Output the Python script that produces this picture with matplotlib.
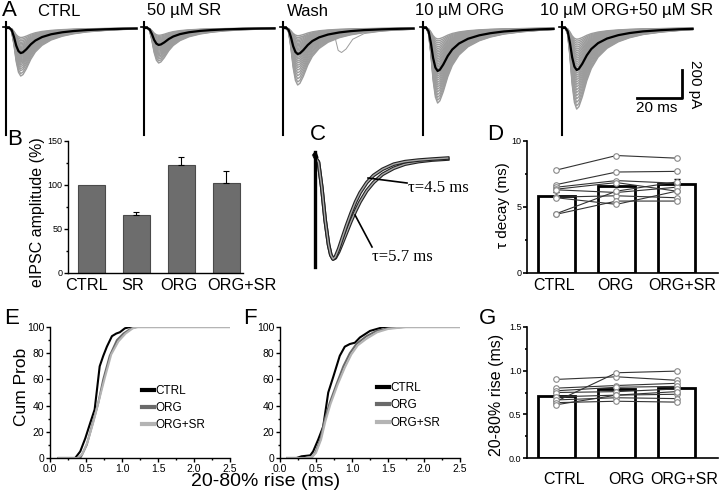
import numpy as np
import matplotlib
matplotlib.use("Agg")
import matplotlib.pyplot as plt
from matplotlib.ticker import MultipleLocator, FormatStrFormatter

plt.rcParams['font.family'] = ['Liberation Sans', 'DejaVu Sans']
plt.rcParams['axes.linewidth'] = 1.0

W, H = 720, 493

# ---- Panel A: evoked IPSC traces (pA vs ms) ----
a_titles = ['CTRL', '50 µM SR', 'Wash', '10 µM ORG', '10 µM ORG+50 µM SR']
# normalised waveform shape (time after stimulus, ms)
wave_t = [0, 1.5, 2.5, 3.5, 4.5, 5.5, 6.5, 7.5, 9, 11, 13, 16, 20, 25, 30, 36, 44, 52, 58]
wave_v = [0, 0, -0.08, -0.35, -0.7, -0.92, -1.0, -0.97, -0.85, -0.65, -0.5,
          -0.36, -0.25, -0.17, -0.12, -0.08, -0.05, -0.03, -0.02]
a_mean_peak = [179, 121, 186, 307, 300]
a_grey_peaks = [
    [343, 325, 305, 290, 275, 262, 252, 243, 235, 228, 220, 212, 205, 198, 191,
     185, 179, 172, 166, 160, 153, 146, 139, 131, 122, 113, 103, 92, 80, 68],
    [250, 235, 222, 210, 200, 190, 182, 174, 166, 158, 151, 144, 137, 130, 124,
     118, 112, 106, 100, 94, 88, 82, 75, 68, 60, 52],
    [407, 385, 362, 340, 320, 300, 282, 266, 250, 236, 222, 210, 198, 186, 175,
     165, 155, 146, 137, 128, 119, 110, 100, 90, 80, 68, 55],
    [536, 515, 495, 475, 455, 437, 420, 404, 388, 372, 357, 343, 330, 317, 304,
     292, 280, 268, 256, 244, 232, 220, 208, 196, 184, 172, 160, 147, 134, 120,
     106, 92, 78],
    [579, 555, 530, 505, 482, 460, 440, 420, 402, 385, 368, 352, 337, 322, 308,
     294, 280, 267, 254, 241, 228, 215, 202, 189, 176, 163, 150, 136, 122, 108,
     94, 80],
]
wash_extra_t = [0, 3, 6, 9, 14, 20, 23, 24.5, 26, 28, 31, 36, 45, 58]
wash_extra_v = [0, -20, -70, -60, -45, -35, -60, -160, -175, -150, -80, -40, -20, -10]
a_seg_start = [2.7, 64.0, 125.8, 188.0, 249.8]

# ---- Panel B ----
b_labels = ['CTRL', 'SR', 'ORG', 'ORG+SR']
b_vals = [100, 66, 123, 102]
b_err = [0, 3, 9, 14]

# ---- Panel C: normalised traces ----
c_t = [0, 1.5, 3, 4.5, 6, 7, 8, 9, 10.5, 12, 14, 16, 18, 20, 23, 26, 30, 35, 40, 46, 52, 59]
c_fast = [0, -0.05, -0.3, -0.62, -0.86, -0.96, -1.0, -0.98, -0.9, -0.8, -0.67, -0.55,
          -0.44, -0.35, -0.25, -0.18, -0.12, -0.07, -0.045, -0.03, -0.02, -0.01]
c_slow = [0, -0.05, -0.3, -0.62, -0.86, -0.96, -1.0, -0.99, -0.93, -0.85, -0.74, -0.63,
          -0.53, -0.44, -0.33, -0.25, -0.17, -0.11, -0.07, -0.045, -0.03, -0.02]

# ---- Panel D ----
dg_labels = ['CTRL', 'ORG', 'ORG+SR']
d_means = [5.86, 6.59, 6.72]
d_err = [0.3, 0.4, 0.4]
d_cells = [
    [7.8, 8.9, 8.7],
    [6.7, 7.65, 7.7],
    [6.5, 7.0, 6.8],
    [6.35, 6.85, 6.2],
    [6.3, 6.1, 6.5],
    [5.75, 5.85, 5.7],
    [4.5, 6.2, 6.9],
    [4.45, 5.45, 5.45],
    [5.7, 5.2, 6.2],
]

# ---- Panels E, F: cumulative distributions of 20-80% rise ----
e_ctrl_x = [0.12, 0.35, 0.42, 0.49, 0.56, 0.62, 0.65, 0.69, 0.74, 0.79, 0.86, 0.92, 0.97, 1.04, 1.11, 1.2, 2.5]
e_ctrl_y = [0, 0, 5, 15, 27, 37, 51, 70, 78, 85, 93, 95, 96, 99, 100, 100, 100]
e_org_x = [0.12, 0.42, 0.44, 0.51, 0.58, 0.67, 0.74, 0.83, 0.93, 1.02, 1.13, 1.2, 2.5]
e_org_y = [0, 0, 2, 10, 24, 42, 60, 78, 90, 95, 99, 100, 100]
e_orgsr_x = [0.12, 0.38, 0.45, 0.52, 0.6, 0.68, 0.76, 0.85, 0.95, 1.05, 1.15, 1.22, 2.5]
e_orgsr_y = [0, 0, 3, 12, 27, 44, 61, 79, 89, 95, 99, 100, 100]

f_ctrl_x = [0.1, 0.23, 0.3, 0.42, 0.46, 0.53, 0.6, 0.67, 0.74, 0.83, 0.9, 0.97, 1.04, 1.11, 1.25, 1.44, 2.5]
f_ctrl_y = [0, 0, 1.3, 2, 5, 14, 24, 50, 62, 78, 85, 87, 88, 92, 97, 100, 100]
f_org_x = [0.1, 0.35, 0.45, 0.49, 0.56, 0.62, 0.69, 0.79, 0.88, 0.97, 1.06, 1.2, 1.34, 1.5, 1.71, 2.5]
f_org_y = [0, 0, 1, 4, 14, 29, 42, 57, 70, 80, 87, 93, 97, 99, 100, 100]
f_orgsr_x = [0.1, 0.35, 0.45, 0.5, 0.57, 0.63, 0.7, 0.8, 0.9, 0.99, 1.08, 1.2, 1.35, 1.5, 1.75, 2.5]
f_orgsr_y = [0, 0, 1, 4, 14, 28, 41, 56, 69, 79, 86, 91, 96, 98.5, 100, 100]

# ---- Panel G ----
g_means = [0.71, 0.786, 0.80]
g_err = [0.03, 0.03, 0.03]
g_cells = [
    [0.90, 0.93, 0.89],
    [0.65, 0.976, 0.995],
    [0.80, 0.83, 0.855],
    [0.77, 0.81, 0.82],
    [0.75, 0.76, 0.79],
    [0.70, 0.72, 0.73],
    [0.665, 0.69, 0.68],
    [0.634, 0.65, 0.64],
    [0.61, 0.72, 0.76],
]

cdf_colors = ['black', '#6a6a6a', '#b4b4b4']
cdf_names = ['CTRL', 'ORG', 'ORG+SR']


def px_axes(fig, left, top, right, bottom):
    return fig.add_axes([left / W, 1 - bottom / H, (right - left) / W, (bottom - top) / H])


def px_text(fig, x, y, s, **kw):
    fig.text(x / W, 1 - y / H, s, **kw)


def style_axes(ax, lw=1.0, tick_size=6.5):
    for side in ['top', 'right']:
        ax.spines[side].set_visible(False)
    for side in ['left', 'bottom']:
        ax.spines[side].set_linewidth(lw)
    ax.tick_params(direction='out', length=3, width=lw, labelsize=tick_size, pad=1)
    ax.tick_params(which='minor', direction='out', length=1.5, width=lw)


fig = plt.figure(figsize=(7.2, 4.93), dpi=100)

# Panel A
axA = px_axes(fig, 0, 15, 720, 140)
axA.set_xlim(0, 320)
axA.set_ylim(-800, 93)
axA.axis('off')
t = np.array(wave_t)
v = np.array(wave_v)
for i, t0 in enumerate(a_seg_start):
    for pk in a_grey_peaks[i]:
        axA.plot(t0 + t, v * pk, color='#9c9c9c', lw=1.0)
    if i == 2:
        axA.plot(t0 + np.array(wash_extra_t), wash_extra_v, color='#9c9c9c', lw=0.7)
    axA.plot(t0 + t, v * a_mean_peak[i], color='black', lw=1.6)
    axA.plot([t0, t0], [45, -765], color='black', lw=1.5)
    axA.plot([t0 - 1.5, t0 + 1.5], [10, 10], color='black', lw=1.2)
# scale bar 20 ms / 200 pA
axA.plot([283.1, 303.1, 303.1], [-500, -500, -300], color='black', lw=2)
axA.text(309, -400, '200 pA', rotation=270, ha='center', va='center', fontsize=11)
axA.text(292, -570, '20 ms', ha='center', va='center', fontsize=11)

px_text(fig, 2, 10, 'A', fontsize=16, ha='left', va='center')
for x, s in zip([59, 184, 308, 460, 627], a_titles):
    px_text(fig, x, 11, s, fontsize=12, ha='center', va='center')

# Panel B
axB = px_axes(fig, 68, 141, 243, 273)
style_axes(axB)
xb = np.arange(len(b_labels))
axB.bar(xb, b_vals, width=0.6, color='#6d6d6d', edgecolor='#4a4a4a', lw=0.8)
axB.errorbar(xb[1:], b_vals[1:], yerr=[np.zeros(3), b_err[1:]], fmt='none',
             ecolor='black', elinewidth=0.8, capsize=2, capthick=0.8)
axB.set_xlim(-0.52, 3.37)
axB.set_ylim(0, 150)
axB.yaxis.set_major_locator(MultipleLocator(50))
axB.yaxis.set_minor_locator(MultipleLocator(25))
axB.set_xticks(xb)
axB.set_xticklabels([])
axB.tick_params(axis='x', length=0)
for x, s in zip([86.5, 132.5, 178.5, 242], b_labels):
    px_text(fig, x, 285, s, fontsize=11.7, ha='center', va='center')
px_text(fig, 38, 212, 'eIPSC amplitude (%)', fontsize=11.5, rotation=90,
        ha='center', va='center')
px_text(fig, 15, 140, 'B', fontsize=16, ha='center', va='center')

# Panel C
axC = px_axes(fig, 300, 140, 470, 270)
axC.set_xlim(-6.7, 68.9)
axC.set_ylim(-1.108, 0.167)
axC.axis('off')
for tr in [c_slow, c_fast]:
    axC.plot(c_t, tr, color='#222222', lw=2.6)
    axC.plot(c_t, tr, color='#a8a8a8', lw=1.0)
axC.plot([0, 0], [0.05, -1.08], color='black', lw=2.4)
axC.plot([-0.8, 0.2, 1.0], [0.02, 0.05, 0.0], color='black', lw=1.5)


def cpx(x, y):
    return (x - 315) / 2.25, -(y - 157) / 102


axC.plot(*zip(cpx(368, 178), cpx(407, 183)), color='black', lw=1.2)
axC.plot(*zip(cpx(355, 215), cpx(372, 247)), color='black', lw=1.2)
axC.text(*cpx(408, 188), 'τ=4.5 ms', family=['Liberation Serif', 'DejaVu Serif'],
         fontsize=12, ha='left', va='center')
axC.text(*cpx(372, 257), 'τ=5.7 ms', family=['Liberation Serif', 'DejaVu Serif'],
         fontsize=12, ha='left', va='center')
px_text(fig, 318, 135, 'C', fontsize=16, ha='center', va='center')


def paired_panel(ax, means, err, cells, ymax, major, minor, label_x, label_y):
    style_axes(ax, lw=1.2)
    xd = np.arange(len(means))
    ax.bar(xd, means, width=0.62, color='white', edgecolor='black', lw=2, zorder=1)
    ax.errorbar(xd, means, yerr=[np.zeros(len(err)), err], fmt='none',
                ecolor='black', elinewidth=1, capsize=2, capthick=1, zorder=2)
    for c in cells:
        ax.plot(xd, c, color='#333333', lw=0.8, zorder=3)
        ax.plot(xd, c, 'o', ms=4, mfc='white', mec='#888888', mew=0.8, zorder=4)
    ax.set_xlim(-0.49, 2.69)
    ax.set_ylim(0, ymax)
    ax.yaxis.set_major_locator(MultipleLocator(major))
    ax.yaxis.set_minor_locator(MultipleLocator(minor))
    ax.set_xticks(xd)
    ax.set_xticklabels([])
    ax.tick_params(axis='x', length=0)
    for x, s in zip(label_x, dg_labels):
        px_text(fig, x, label_y, s, fontsize=11.5, ha='center', va='center')


# Panel D
axD = px_axes(fig, 527, 141, 718, 273)
paired_panel(axD, d_means, d_err, d_cells, 10, 5, 2.5, [554.5, 615, 682], 286)
px_text(fig, 503, 205, 'τ decay (ms)', fontsize=11, rotation=90, ha='center', va='center')
px_text(fig, 495, 135, 'D', fontsize=16, ha='center', va='center')

# Panel G
axG = px_axes(fig, 527, 327, 718, 458)
paired_panel(axG, g_means, g_err, g_cells, 1.5, 0.5, 0.25, [564, 626.5, 684], 480)
px_text(fig, 497, 395, '20-80% rise (ms)', fontsize=11.5, rotation=90, ha='center', va='center')
px_text(fig, 487, 318, 'G', fontsize=16, ha='center', va='center')


def cdf_panel(ax, curves, leg_xy):
    style_axes(ax, lw=1.0, tick_size=7.5)
    for (x, y), col, name in zip(curves, cdf_colors, cdf_names):
        ax.plot(x, y, color=col, lw=1.5, label=name)
    ax.set_xlim(0, 2.5)
    ax.set_ylim(0, 100)
    ax.xaxis.set_major_locator(MultipleLocator(0.5))
    ax.xaxis.set_minor_locator(MultipleLocator(0.25))
    ax.yaxis.set_major_locator(MultipleLocator(20))
    ax.yaxis.set_minor_locator(MultipleLocator(10))
    ax.xaxis.set_major_formatter(FormatStrFormatter('%.1f'))
    leg = ax.legend(loc='upper left', bbox_to_anchor=leg_xy, frameon=False,
                    fontsize=8.5, handlelength=1.0, handletextpad=0.15,
                    labelspacing=0.45, borderpad=0, borderaxespad=0)
    for ln in leg.get_lines():
        ln.set_linewidth(3)


axE = px_axes(fig, 50, 327, 230, 458)
cdf_panel(axE, [(e_ctrl_x, e_ctrl_y), (e_org_x, e_org_y), (e_orgsr_x, e_orgsr_y)], (0.51, 0.56))
px_text(fig, 22, 387, 'Cum Prob', fontsize=12.5, rotation=90, ha='center', va='center')
px_text(fig, 12, 318, 'E', fontsize=16, ha='center', va='center')

axF = px_axes(fig, 280, 327, 460, 458)
cdf_panel(axF, [(f_ctrl_x, f_ctrl_y), (f_org_x, f_org_y), (f_orgsr_x, f_orgsr_y)], (0.54, 0.58))
px_text(fig, 250, 318, 'F', fontsize=16, ha='center', va='center')

px_text(fig, 266, 481, '20-80% rise (ms)', fontsize=14, ha='center', va='center')

fig.savefig('out.png', dpi=100)
